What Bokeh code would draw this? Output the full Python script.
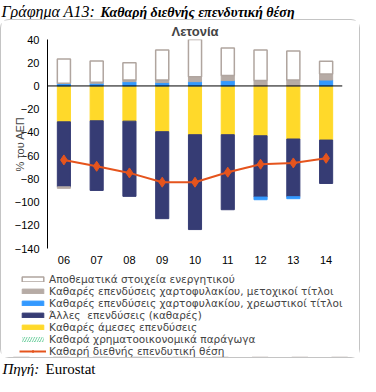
from bokeh.plotting import figure
from bokeh.models import FactorRange, Range1d, Span, Label, Legend, LegendItem, ColumnDataSource, FixedTicker
from bokeh.layouts import column
from bokeh.embed import file_html
from bokeh.resources import INLINE

# ---------------- data (% of GDP) ----------------
years = ["06", "07", "08", "09", "10", "11", "12", "13", "14"]
reserves = [20.8, 18.3, 14.9, 25.8, 32.3, 23.7, 26.3, 24.9, 11.1]
equity = [-1.3, 0.8, 1.4, 2.3, 4.3, 4.3, 4.6, 5.1, 5.1]
debt = [2.3, 2.3, 3.7, 2.9, 3.7, 4.6, -2.3, -1.7, 5.1]
other = [-56.0, -60.0, -64.8, -74.9, -81.7, -64.6, -52.8, -49.7, -37.4]
fdi = [-30.9, -30.0, -30.3, -39.4, -42.0, -42.0, -42.9, -45.7, -46.6]
derivatives = [0.0, 0.0, 0.0, 0.0, 0.0, 0.0, 0.0, 0.0, 0.0]
niip = [-63.7, -69.2, -74.9, -82.9, -82.9, -74.3, -67.4, -66.3, -62.3]
y_ticks = [-140, -120, -100, -80, -60, -40, -20, 0, 20, 40]

labels = {
    "reserves": "Αποθεματικά στοιχεία ενεργητικού",
    "equity": "Καθαρές επενδύσεις χαρτοφυλακίου, μετοχικοί τίτλοι",
    "debt": "Καθαρές επενδύσεις χαρτοφυλακίου, χρεωστικοί τίτλοι",
    "other": "Άλλες  επενδύσεις (καθαρές)",
    "fdi": "Καθαρές άμεσες επενδύσεις",
    "derivatives": "Καθαρά χρηματοοικονομικά παράγωγα",
    "niip": "Καθαρή διεθνής επενδυτική θέση",
}

FONT = "Liberation Sans"
LEG_FONT = "DejaVu Sans"
SERIF = "Liberation Serif"

styles = {
    "reserves": dict(fill_color="white", line_color="#b0a59f", line_width=1.5),
    "equity": dict(fill_color="#b6aba5", line_color="#b6aba5"),
    "debt": dict(fill_color="#3399ff", line_color="#3399ff"),
    "other": dict(fill_color="#363c74", line_color="#363c74"),
    "fdi": dict(fill_color="#ffd92a", line_color="#ffd92a"),
    "derivatives": dict(fill_color="#66cc99", line_color=None, hatch_pattern="/",
                        hatch_color="white", hatch_scale=5, hatch_weight=1.5),
}
LINE_COLOR = "#e5541d"

# stacking (positives up, negatives down) in series order
order = [("derivatives", derivatives), ("fdi", fdi), ("other", other),
         ("debt", debt), ("equity", equity), ("reserves", reserves)]
pos = [0.0] * len(years)
neg = [0.0] * len(years)
stacks = {}
for name, vals in order:
    bottoms, tops = [], []
    for i, v in enumerate(vals):
        if v >= 0:
            bottoms.append(pos[i]); tops.append(pos[i] + v); pos[i] += v
        else:
            bottoms.append(neg[i]); tops.append(neg[i] + v); neg[i] += v
    stacks[name] = ColumnDataSource(dict(x=years, bottom=bottoms, top=tops))
line_src = ColumnDataSource(dict(x=years, y=niip))


def blank(width, height, x_range=None, y_range=None):
    f = figure(width=width, height=height, toolbar_location=None, output_backend="svg",
               x_axis_type=None, y_axis_type=None, min_border=0,
               x_range=x_range if x_range is not None else Range1d(0, 1),
               y_range=y_range if y_range is not None else Range1d(0, 1))
    f.title = None
    f.outline_line_color = None
    f.grid.visible = False
    return f


# ---------------- header ----------------
head = blank(360, 19)
head.add_layout(Label(x=1, y=0, x_units="screen", y_units="screen", text="Γράφημα Α13:",
                      text_font=SERIF, text_font_style="italic", text_font_size="16px",
                      text_baseline="bottom", text_color="#000000"))
head.add_layout(Label(x=100, y=0, x_units="screen", y_units="screen",
                      text="Καθαρή διεθνής επενδυτική θέση",
                      text_font=SERIF, text_font_style="bold italic", text_font_size="14px",
                      text_baseline="bottom", text_color="#000000"))

# ---------------- main chart ----------------
IW = 358
p = figure(width=IW, height=250, toolbar_location=None, output_backend="svg",
           x_range=FactorRange(*years, range_padding=0), y_range=Range1d(-140, 40),
           min_border_left=46, min_border_right=17, min_border_top=19, min_border_bottom=22)
p.outline_line_color = None
p.grid.visible = False
p.title.text = "Λετονία"
p.title.align = "center"
p.title.text_font = FONT
p.title.text_font_size = "13px"
p.title.text_font_style = "bold"
p.title.standoff = 2
p.title.offset = -8

w = 0.4
for name, _ in order:
    p.vbar(x="x", bottom="bottom", top="top", width=w, source=stacks[name], **styles[name])

p.add_layout(Span(location=0, dimension="width", line_color="black", line_width=1))

p.line(x="x", y="y", source=line_src, line_color=LINE_COLOR, line_width=2)
p.scatter(x="x", y="y", source=line_src, marker="diamond", size=10,
          fill_color=LINE_COLOR, line_color=LINE_COLOR)

# axes
p.yaxis.ticker = FixedTicker(ticks=y_ticks)
p.yaxis.axis_label = "% του ΑΕΠ"
p.yaxis.axis_label_text_font = FONT
p.yaxis.axis_label_text_font_style = "normal"
p.yaxis.axis_label_text_font_size = "11px"
p.yaxis.axis_label_standoff = -14
p.yaxis.major_label_text_font = FONT
p.yaxis.major_label_text_font_size = "11px"
p.yaxis.major_label_text_color = "black"
p.yaxis.major_tick_out = 0
p.yaxis.major_tick_in = 0
p.yaxis.minor_tick_out = 0
p.yaxis.minor_tick_in = 0
p.yaxis.major_label_standoff = 8
p.yaxis.axis_line_color = "black"

p.xaxis.axis_line_color = None
p.xaxis.major_tick_out = 0
p.xaxis.major_tick_in = 0
p.xaxis.major_label_text_font = FONT
p.xaxis.major_label_text_font_size = "11px"
p.xaxis.major_label_text_color = "black"
p.xaxis.major_label_standoff = 7

# ---------------- legend panel (inside the same framed box) ----------------
# legend keys reuse the real series; this panel's y range shows none of the bars
leg = blank(IW, 87, x_range=FactorRange(*years, range_padding=0), y_range=Range1d(1000, 1001))
leg_items = []
for name in ["reserves", "equity", "debt", "other", "fdi", "derivatives"]:
    r = leg.vbar(x="x", bottom="bottom", top="top", width=w, source=stacks[name], **styles[name])
    leg_items.append(LegendItem(label=labels[name], renderers=[r]))
rl = leg.line(x="x", y="y", source=line_src, line_color=LINE_COLOR, line_width=2)
rp = leg.scatter(x="x", y="y", source=line_src, marker="diamond", size=8,
                 fill_color=LINE_COLOR, line_color=LINE_COLOR)
leg_items.append(LegendItem(label=labels["niip"], renderers=[rl, rp]))

legend = Legend(items=leg_items, location=(18, 0))
legend.border_line_color = None
legend.background_fill_alpha = 0
legend.padding = 0
legend.margin = 0
legend.spacing = 0
legend.glyph_width = 27
legend.glyph_height = 6
legend.label_height = 11
legend.label_standoff = 3
legend.label_text_font = LEG_FONT
legend.label_text_font_size = "10.5px"
legend.label_text_line_height = 0.9
leg.add_layout(legend, "center")

box = column(p, column(leg, spacing=0), spacing=0,
             styles={"border": "1px solid #c4c4c4", "border-radius": "9px"})

# ---------------- source ----------------
src = blank(360, 18)
src.add_layout(Label(x=2, y=0, x_units="screen", y_units="screen", text="Πηγή:",
                     text_font=SERIF, text_font_style="italic", text_font_size="15px",
                     text_baseline="bottom", text_color="black"))
src.add_layout(Label(x=45, y=0, x_units="screen", y_units="screen", text="Eurostat",
                     text_font=SERIF, text_font_size="15px",
                     text_baseline="bottom", text_color="black"))

layout = column(head, box, src, spacing=0)
open("out.html", "w").write(file_html(layout, INLINE))
